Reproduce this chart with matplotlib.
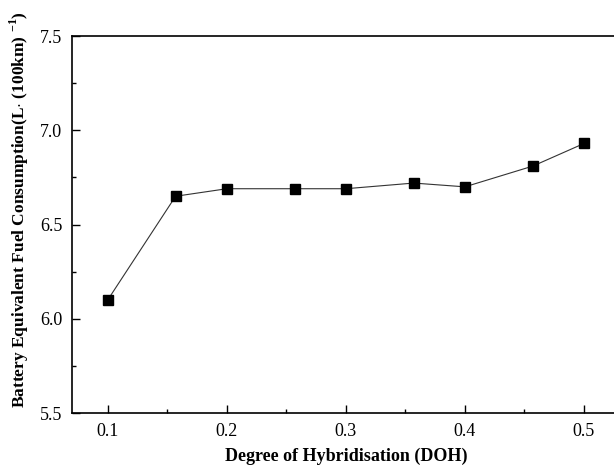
import matplotlib
matplotlib.use("Agg")
import matplotlib.pyplot as plt
from matplotlib.ticker import MultipleLocator

# degree of hybridisation vs battery equivalent fuel consumption
doh = [0.1, 0.157, 0.2, 0.257, 0.3, 0.357, 0.4, 0.457, 0.5]
fuel = [6.10, 6.65, 6.69, 6.69, 6.69, 6.72, 6.70, 6.81, 6.93]

xticks = [0.1, 0.2, 0.3, 0.4, 0.5]
yticks = [5.5, 6.0, 6.5, 7.0, 7.5]

plt.rcParams['font.family'] = 'Liberation Serif'
plt.rcParams['mathtext.fontset'] = 'custom'
plt.rcParams['mathtext.rm'] = 'Liberation Serif:bold'
plt.rcParams['mathtext.bf'] = 'Liberation Serif:bold'

fig = plt.figure(figsize=(6.14, 4.73), dpi=100)
ax = fig.add_axes([0.1173, 0.1268, 0.892, 0.797])

ax.plot(doh, fuel, color='#333333', linewidth=0.8, marker='s',
        markersize=6.8, markerfacecolor='black', markeredgecolor='black')

ax.set_xlim(0.07, 0.53)
ax.set_ylim(5.5, 7.5)
ax.set_xticks(xticks)
ax.set_yticks(yticks)
ax.set_xticklabels(['%.1f' % t for t in xticks])
ax.set_yticklabels(['%.1f' % t for t in yticks])
ax.xaxis.set_minor_locator(MultipleLocator(0.05))
ax.yaxis.set_minor_locator(MultipleLocator(0.25))
ax.tick_params(which='major', direction='in', length=6, width=1, labelsize=13)
ax.tick_params(which='minor', direction='in', length=3, width=1)
ax.tick_params(axis='x', pad=7)
ax.tick_params(axis='y', pad=7)

for s in ax.spines.values():
    s.set_linewidth(1.2)

ax.set_xlabel('Degree of Hybridisation (DOH)', fontsize=13, fontweight='bold', labelpad=6)
ax.set_ylabel('Battery Equivalent Fuel Consumption(L$\\cdot$ (100km) $^{-1}$)',
              fontsize=12.5, fontweight='bold')
ax.yaxis.set_label_coords(-0.074, 0.54)

fig.savefig('out.png', dpi=100)
